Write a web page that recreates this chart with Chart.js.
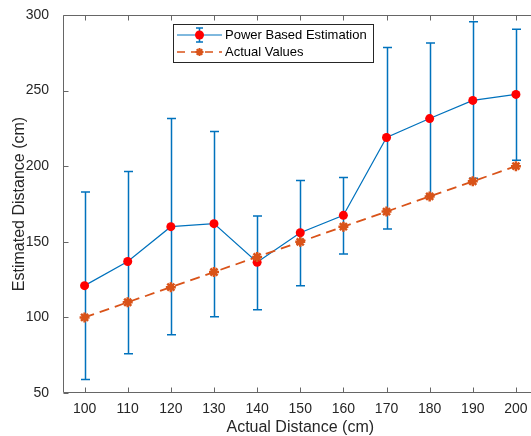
<!DOCTYPE html>
<html>

<head>
    <title>Distance Estimation</title>
    <script src="https://cdn.jsdelivr.net/npm/chart.js@4.4.1/dist/chart.umd.min.js"></script>
    <style>
        html, body {
            margin: 0;
            padding: 0;
            background: #fff;
        }

        .frame {
            width: 531px;
            height: 436px;
            overflow: hidden;
        }

        .chart {
            width: 545px;
            height: 436px;
        }
    </style>
</head>

<body>
<div class="frame">
    <div class="chart">
        <canvas id="distance-chart"></canvas>
    </div>
</div>

<script>
    // measured distances (cm)
    const actualDistance = [100, 110, 120, 130, 140, 150, 160, 170, 180, 190, 200];
    const estimatedMean = [121, 137, 160, 162, 136.5, 156, 167.5, 219, 231.5, 243.5, 247.5];
    const estimatedUpper = [183, 196.5, 231.5, 223, 167, 190.5, 192.5, 278.5, 281.5, 295.5, 290.5];
    const estimatedLower = [59, 76, 88.5, 100.5, 105, 121, 142, 158.5, 181, 192, 204];
    const xTicks = [100, 110, 120, 130, 140, 150, 160, 170, 180, 190, 200];
    const yTicks = [50, 100, 150, 200, 250, 300];

    const BLUE = '#0072BD';
    const ORANGE = '#D95319';
    const AXIS = '#666666';
    const TEXT = '#262626';
    const FONT = '"Liberation Sans", Arial, sans-serif';

    // vertical error bars with caps, under the lines
    const errorBars = {
        id: 'errorBars',
        beforeDatasetsDraw(chart) {
            const ctx = chart.ctx;
            const x = chart.scales.x, y = chart.scales.y;
            ctx.save();
            ctx.strokeStyle = BLUE;
            ctx.lineWidth = 1.5;
            actualDistance.forEach((d, i) => {
                const px = Math.round(x.getPixelForValue(d)) + 0.5;
                const top = y.getPixelForValue(estimatedUpper[i]);
                const bot = y.getPixelForValue(estimatedLower[i]);
                ctx.beginPath();
                ctx.moveTo(px, top);
                ctx.lineTo(px, bot);
                ctx.moveTo(px - 4.5, top);
                ctx.lineTo(px + 4.5, top);
                ctx.moveTo(px - 4.5, bot);
                ctx.lineTo(px + 4.5, bot);
                ctx.stroke();
            });
            ctx.restore();
        }
    };

    // box around the plot with inward ticks
    const axesBox = {
        id: 'axesBox',
        afterDatasetsDraw(chart) {
            const ctx = chart.ctx;
            const a = chart.chartArea;
            const x = chart.scales.x, y = chart.scales.y;
            const L = Math.round(a.left) + 0.5, R = Math.round(a.right) - 0.5;
            const T = Math.round(a.top) + 0.5, B = Math.round(a.bottom) - 0.5;
            ctx.save();
            ctx.strokeStyle = AXIS;
            ctx.lineWidth = 1;
            ctx.beginPath();
            ctx.rect(L, T, R - L, B - T);
            xTicks.forEach(v => {
                const px = Math.round(x.getPixelForValue(v)) + 0.5;
                ctx.moveTo(px, B);
                ctx.lineTo(px, B - 5);
                ctx.moveTo(px, T);
                ctx.lineTo(px, T + 5);
            });
            yTicks.forEach(v => {
                const py = Math.round(y.getPixelForValue(v)) + 0.5;
                ctx.moveTo(L, py);
                ctx.lineTo(L + 5, py);
                ctx.moveTo(R, py);
                ctx.lineTo(R - 5, py);
            });
            ctx.stroke();
            ctx.restore();
        }
    };

    // legend box inside the plot, top middle
    const innerLegend = {
        id: 'innerLegend',
        afterDraw(chart) {
            const ctx = chart.ctx;
            const bx = 173.5, by = 24.5, bw = 200, bh = 38;
            ctx.save();
            ctx.fillStyle = '#fff';
            ctx.fillRect(bx, by, bw, bh);
            ctx.strokeStyle = TEXT;
            ctx.lineWidth = 1;
            ctx.strokeRect(bx, by, bw, bh);

            // Power Based Estimation
            const y1 = 35;
            ctx.strokeStyle = BLUE;
            ctx.lineWidth = 1;
            ctx.beginPath();
            ctx.moveTo(177, y1);
            ctx.lineTo(222, y1);
            ctx.stroke();
            ctx.lineWidth = 1.5;
            ctx.beginPath();
            ctx.moveTo(199.5, y1 - 7);
            ctx.lineTo(199.5, y1 + 7);
            ctx.moveTo(196, y1 - 7);
            ctx.lineTo(203, y1 - 7);
            ctx.moveTo(196, y1 + 7);
            ctx.lineTo(203, y1 + 7);
            ctx.stroke();
            ctx.fillStyle = '#FF0000';
            ctx.beginPath();
            ctx.arc(199.5, y1, 4.5, 0, Math.PI * 2);
            ctx.fill();

            // Actual Values
            const y2 = 52;
            ctx.strokeStyle = ORANGE;
            ctx.lineWidth = 1.5;
            ctx.setLineDash([8, 6]);
            ctx.beginPath();
            ctx.moveTo(177, y2);
            ctx.lineTo(222, y2);
            ctx.stroke();
            ctx.setLineDash([]);
            ctx.lineWidth = 2;
            ctx.beginPath();
            for (let k = 0; k < 4; k++) {
                const ang = k * Math.PI / 4;
                ctx.moveTo(199.5 - 4 * Math.cos(ang), y2 - 4 * Math.sin(ang));
                ctx.lineTo(199.5 + 4 * Math.cos(ang), y2 + 4 * Math.sin(ang));
            }
            ctx.stroke();

            ctx.fillStyle = '#000';
            ctx.font = '13px ' + FONT;
            ctx.textBaseline = 'middle';
            ctx.fillText('Power Based Estimation', 225, y1 + 0.5);
            ctx.fillText('Actual Values', 225, y2 + 0.5);
            ctx.restore();
        }
    };

    const ctx = document.getElementById('distance-chart').getContext('2d');
    const chart = new Chart(ctx, {
        type: 'line',
        data: {
            datasets: [{
                label: 'Power Based Estimation',
                data: actualDistance.map((d, i) => ({x: d, y: estimatedMean[i]})),
                borderColor: BLUE,
                borderWidth: 1.2,
                backgroundColor: '#FF0000',
                pointBackgroundColor: '#FF0000',
                pointBorderColor: '#FF0000',
                pointRadius: 4.5,
                pointBorderWidth: 0,
                tension: 0,
                order: 1
            }, {
                label: 'Actual Values',
                data: actualDistance.map(d => ({x: d, y: d})),
                borderColor: ORANGE,
                borderWidth: 1.8,
                borderDash: [10, 6],
                pointStyle: 'star',
                pointRadius: 5,
                pointBorderWidth: 2.5,
                pointBorderColor: ORANGE,
                pointBackgroundColor: ORANGE,
                tension: 0,
                order: 0
            }]
        },
        options: {
            responsive: true,
            maintainAspectRatio: false,
            animation: false,
            layout: {
                padding: {top: 15, right: 5, left: 0, bottom: 0}
            },
            plugins: {
                legend: {display: false},
                tooltip: {enabled: false}
            },
            scales: {
                x: {
                    type: 'linear',
                    min: 95,
                    max: 205,
                    afterBuildTicks: scale => {
                        scale.ticks = xTicks.map(v => ({value: v}));
                    },
                    afterFit: scale => {
                        scale.height = 43;
                    },
                    grid: {display: false},
                    border: {display: false},
                    ticks: {
                        color: TEXT,
                        padding: 0,
                        maxRotation: 0,
                        autoSkip: false,
                        font: {family: FONT, size: 14}
                    },
                    title: {
                        display: true,
                        text: 'Actual Distance (cm)',
                        color: TEXT,
                        padding: {top: 0, bottom: 0},
                        font: {family: FONT, size: 16, lineHeight: 1}
                    }
                },
                y: {
                    min: 50,
                    max: 300,
                    afterBuildTicks: scale => {
                        scale.ticks = yTicks.map(v => ({value: v}));
                    },
                    afterFit: scale => {
                        scale.width = 63;
                    },
                    grid: {display: false},
                    border: {display: false},
                    ticks: {
                        color: TEXT,
                        padding: 6,
                        font: {family: FONT, size: 14}
                    },
                    title: {
                        display: true,
                        text: 'Estimated Distance (cm)',
                        color: TEXT,
                        padding: {top: 10, bottom: 0},
                        font: {family: FONT, size: 16}
                    }
                }
            }
        },
        plugins: [errorBars, axesBox, innerLegend]
    });
</script>
</body>

</html>
